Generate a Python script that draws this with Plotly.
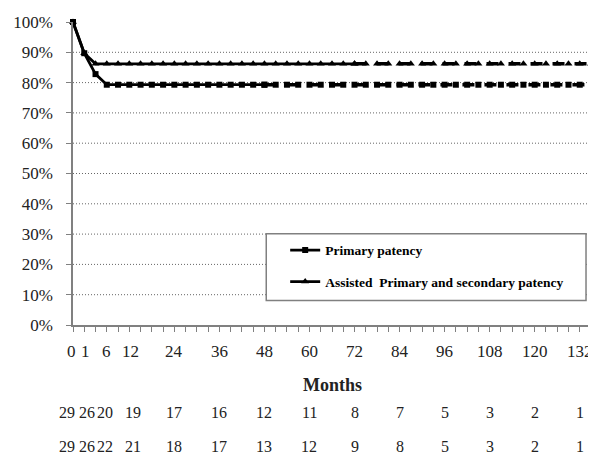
import plotly.graph_objects as go

# category months (x-axis categories, one per index)
months = [0, 1] + list(range(3, 136, 3))
n = len(months)

# survival values (%), one per category
primary = [100, 89.7, 82.8] + [79.3] * (n - 3)
assisted = [100, 89.7] + [86.2] * (n - 2)

primary_solid_end = 48   # months where line turns dashed
assisted_solid_end = 72

label_months = [0, 1, 6, 12, 24, 36, 48, 60, 72, 84, 96, 108, 120, 132]
risk_primary = [29, 26, 20, 19, 17, 16, 12, 11, 8, 7, 5, 3, 2, 1]
risk_assisted = [29, 26, 22, 21, 18, 17, 13, 12, 9, 8, 5, 3, 2, 1]

y_ticks = list(range(0, 101, 10))
grid_levels = list(range(10, 100, 10))

idx = list(range(n))
SERIF = "'Times New Roman', 'Liberation Serif', 'DejaVu Serif', serif"

# page offset (browser body margin) compensation
OFF = 8

fig = go.Figure()

def add_series(vals, end_month, symbol, size, name, group):
    k = months.index(end_month)
    fig.add_trace(go.Scatter(
        x=idx[:k + 1], y=vals[:k + 1], mode="lines+markers", name=name,
        legendgroup=group,
        line=dict(color="black", width=2.8),
        marker=dict(symbol=symbol, size=size, color="black"),
        cliponaxis=False, showlegend=True))
    fig.add_trace(go.Scatter(
        x=idx[k:], y=vals[k:], mode="lines+markers", name=name,
        legendgroup=group,
        line=dict(color="black", width=3.5, dash="12px,10px"),
        marker=dict(symbol=symbol, size=size, color="black"),
        cliponaxis=False, showlegend=False))

add_series(primary, primary_solid_end, "square", 6, "Primary patency", "a")
add_series(assisted, assisted_solid_end, "triangle-up", 7,
           "Assisted  Primary and secondary patency", "b")

def px2x(p):
    return (p - 71) / 520
def py2y(p):
    return (325 - p) / 309

shapes = []
for g in grid_levels:
    shapes.append(dict(type="line", xref="paper", x0=0, x1=1, yref="y", y0=g, y1=g,
                       line=dict(color="#666666", width=1, dash="1px,2px"), layer="below"))
shapes.append(dict(type="rect", xref="paper", yref="paper",
                   x0=px2x(265), x1=px2x(586), y0=py2y(300), y1=py2y(232),
                   line=dict(color="#808080", width=1.5), fillcolor="white", layer="below"))

# small horizontal nudges for the crowded first columns (pixels)
label_shift = {0: -2, 1: 1, 6: 0, 12: 1}
risk_shift = {0: -6, 1: 3, 6: -2, 12: 4}

annotations = []
def txt(x, xref, y, text, size, xshift=0):
    annotations.append(dict(x=x, xref=xref, y=y, yref="paper", text=text,
                            xshift=xshift, xanchor="center", yanchor="middle",
                            showarrow=False, font=dict(family=SERIF, size=size, color="#222")))

for m in label_months:
    txt(months.index(m), "x", py2y(352), str(m), 17, label_shift.get(m, 0))
for m, v in zip(label_months, risk_primary):
    txt(months.index(m), "x", py2y(414), str(v), 16, risk_shift.get(m, 0))
for m, v in zip(label_months, risk_assisted):
    txt(months.index(m), "x", py2y(449), str(v), 16, risk_shift.get(m, 0))
txt(px2x(331), "paper", py2y(386), "<b>Months</b>", 18)

fig.update_layout(
    width=596 - OFF, height=467 - OFF,
    margin=dict(l=71 - OFF, r=5, t=16 - OFF, b=142, pad=0),
    paper_bgcolor="white", plot_bgcolor="white",
    font=dict(family=SERIF),
    showlegend=True,
    legend=dict(x=px2x(284), y=py2y(233), xanchor="left", yanchor="top",
                bgcolor="rgba(0,0,0,0)", borderwidth=0,
                font=dict(family=SERIF, size=13.5, color="black", weight="bold"),
                tracegroupgap=11, itemwidth=30),
    shapes=shapes, annotations=annotations,
    xaxis=dict(range=[0, n - 1], tickvals=idx, ticktext=[""] * n,
               showgrid=False, zeroline=False, showline=True, linecolor="#808080",
               linewidth=1.5, ticks="outside", ticklen=5, tickcolor="#808080"),
    yaxis=dict(range=[0, 100], tickvals=y_ticks, ticktext=[f"{t}%" for t in y_ticks],
               showgrid=False, zeroline=False, showline=True, linecolor="#808080",
               linewidth=1.5, ticks="outside", ticklen=5, tickcolor="#808080",
               ticklabelstandoff=10, ticklabeloverflow="allow",
               tickfont=dict(family=SERIF, size=17, color="#222")),
)

fig.write_html("out.html")
